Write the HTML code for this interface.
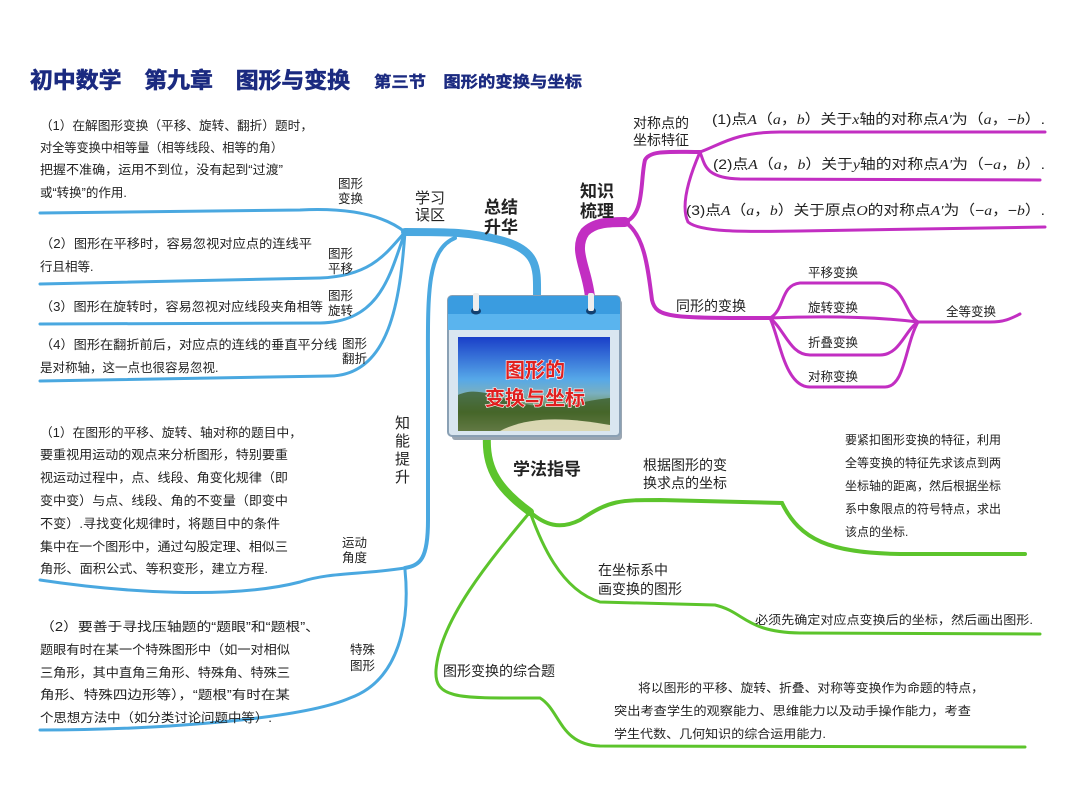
<!DOCTYPE html>
<html><head><meta charset="utf-8"><style>
html,body{margin:0;padding:0;background:#fff;}
svg{display:block;}
text{font-family:"Liberation Sans","Noto Sans CJK SC",sans-serif;fill:#222;}
.t{font-size:12.5px;}
.m{font-size:14px;}
.b{font-weight:bold;}
</style></head><body>
<svg width="1080" height="802" viewBox="0 0 1080 802" xmlns="http://www.w3.org/2000/svg">
<rect width="1080" height="802" fill="#fff"/>
<!-- title -->
<text x="30" y="88" class="b" style="font-size:22px;fill:#1b2a80;stroke:#1b2a80;stroke-width:0.6" textLength="320" lengthAdjust="spacingAndGlyphs">初中数学　第九章　图形与变换</text>
<text x="374" y="87" class="b" style="font-size:15.5px;fill:#1b2a80;stroke:#1b2a80;stroke-width:0.4" textLength="208" lengthAdjust="spacingAndGlyphs">第三节　图形的变换与坐标</text>

<!-- BLUE -->
<g fill="none" stroke="#4aa8e0" stroke-linecap="round">
<path d="M537 298 C537 270 540 250 500 240 C470 232 450 232 405 232" stroke-width="8"/>
<path d="M405 232 C380 212 340 208 300 210 L40 213" stroke-width="3"/>
<path d="M405 232 C385 255 370 276 320 278 L40 284" stroke-width="3"/>
<path d="M405 232 C390 275 380 322 320 323 L40 324" stroke-width="3"/>
<path d="M405 232 C400 300 390 375 330 376 L40 381" stroke-width="3"/>
<path d="M455 238 C425 250 428 300 428 380 L428 520 C428 560 420 565 405 568" stroke-width="4"/>
<path d="M405 568 C360 575 330 572 300 582 C230 600 120 592 40 580" stroke-width="3"/>
<path d="M405 570 C410 620 400 680 350 698 C300 720 150 730 40 730" stroke-width="3"/>
</g>

<!-- MAGENTA -->
<g fill="none" stroke="#c22ec2" stroke-linecap="round">
<path d="M590 298 C588 270 572 250 585 232 C595 222 610 222 625 222" stroke-width="10"/>
<path d="M625 222 C645 215 640 180 645 160 C650 150 670 152 700 152" stroke-width="4"/>
<path d="M700 152 C720 145 735 132 780 132 L1045 132" stroke-width="3"/>
<path d="M700 152 C705 165 705 178 740 179 L1040 180" stroke-width="3"/>
<path d="M700 152 C690 175 680 205 688 222 C700 232 740 232 800 231 L1045 227" stroke-width="3"/>
<path d="M625 222 C645 235 648 270 652 300 C656 318 670 318 770 318" stroke-width="4"/>
<path d="M770 318 C785 310 780 285 800 283 L880 283 C905 285 905 315 918 322" stroke-width="3"/>
<path d="M770 318 C820 316 870 316 918 322" stroke-width="3"/>
<path d="M770 318 C785 330 790 355 810 355 L880 355 C900 355 905 330 918 322" stroke-width="3"/>
<path d="M770 318 C780 340 785 387 810 387 L885 387 C905 387 905 345 918 322" stroke-width="3"/>
<path d="M918 322 L990 322 C1005 322 1012 318 1020 314" stroke-width="3"/>
</g>

<!-- GREEN -->
<g fill="none" stroke="#5cc42c" stroke-linecap="round">
<path d="M487 436 C485 470 500 490 530 512" stroke-width="8"/>
<path d="M530 512 C545 525 560 530 580 520 C610 500 620 500 660 500 L782 503 C800 540 830 553 900 554 L1025 554" stroke-width="4"/>
<path d="M530 512 C540 540 560 590 600 602 L715 605 C745 612 745 632 800 633 L1040 634" stroke-width="3"/>
<path d="M530 512 C490 560 440 620 436 670 C434 700 460 698 540 698 C560 710 560 745 600 746 L1025 747" stroke-width="3"/>
</g>

<!-- calendar -->
<rect x="452" y="300" width="170" height="140" rx="3" fill="#9aa6b2"/>
<rect x="448" y="296" width="172" height="140" rx="4" fill="#d9e6f0" stroke="#8aa0b4" stroke-width="2"/>
<rect x="448" y="296" width="172" height="34" rx="4" fill="#3a9ce0"/>
<rect x="448" y="314" width="172" height="16" fill="#5ab4ee"/>
<ellipse cx="476" cy="311" rx="5" ry="3.5" fill="#124070"/>
<ellipse cx="591" cy="311" rx="5" ry="3.5" fill="#124070"/>
<rect x="473" y="293" width="6" height="18" rx="2" fill="#eee"/>
<rect x="588" y="293" width="6" height="18" rx="2" fill="#eee"/>
<defs><linearGradient id="sky" x1="0" y1="0" x2="0" y2="1">
<stop offset="0" stop-color="#1a3fc8"/><stop offset="0.45" stop-color="#56a8e8"/>
<stop offset="0.6" stop-color="#7ab0c0"/><stop offset="0.8" stop-color="#6a8a40"/><stop offset="1" stop-color="#d8d4a8"/></linearGradient></defs>
<rect x="458" y="337" width="152" height="94" fill="url(#sky)"/>
<path d="M458 395 C480 385 500 400 530 405 C560 410 585 400 610 398 L610 431 L458 431Z" fill="#3a5a22" opacity="0.75"/>
<path d="M500 431 C530 415 570 418 610 425 L610 431Z" fill="#e8e2c0" opacity="0.9"/>
<text x="535" y="377" text-anchor="middle" class="b" style="font-size:20px;fill:#e02020;stroke:#fff;stroke-width:1.2;paint-order:stroke">图形的</text>
<text x="535" y="405" text-anchor="middle" class="b" style="font-size:20px;fill:#e02020;stroke:#fff;stroke-width:1.2;paint-order:stroke">变换与坐标</text>

<!-- left texts -->
<text x="40" y="130" class="t" textLength="273" lengthAdjust="spacingAndGlyphs">（1）在解图形变换（平移、旋转、翻折）题时，</text>
<text x="40" y="152" class="t" textLength="243" lengthAdjust="spacingAndGlyphs">对全等变换中相等量（相等线段、相等的角）</text>
<text x="40" y="174" class="t" textLength="243" lengthAdjust="spacingAndGlyphs">把握不准确，运用不到位，没有起到“过渡”</text>
<text x="40" y="197" class="t">或“转换”的作用.</text>
<text x="338" y="188" class="t">图形</text><text x="338" y="203" class="t">变换</text>
<text x="40" y="248" class="t" textLength="272" lengthAdjust="spacingAndGlyphs">（2）图形在平移时，容易忽视对应点的连线平</text>
<text x="40" y="271" class="t">行且相等.</text>
<text x="328" y="258" class="t">图形</text><text x="328" y="273" class="t">平移</text>
<text x="40" y="311" class="t" textLength="283" lengthAdjust="spacingAndGlyphs">（3）图形在旋转时，容易忽视对应线段夹角相等</text>
<text x="328" y="300" class="t">图形</text><text x="328" y="315" class="t">旋转</text>
<text x="40" y="349" class="t" textLength="297" lengthAdjust="spacingAndGlyphs">（4）图形在翻折前后，对应点的连线的垂直平分线</text>
<text x="40" y="372" class="t">是对称轴，这一点也很容易忽视.</text>
<text x="342" y="348" class="t">图形</text><text x="342" y="363" class="t">翻折</text>
<text x="415" y="203" style="font-size:15px">学习</text><text x="415" y="220" style="font-size:15px">误区</text>
<text x="484" y="213" class="b" style="font-size:17px">总结</text><text x="484" y="233" class="b" style="font-size:17px">升华</text>
<g style="font-size:15px"><text x="395" y="428">知</text><text x="395" y="446">能</text><text x="395" y="464">提</text><text x="395" y="482">升</text></g>

<text x="40" y="437" class="t" textLength="262" lengthAdjust="spacingAndGlyphs">（1）在图形的平移、旋转、轴对称的题目中，</text>
<text x="40" y="459" class="t" textLength="248" lengthAdjust="spacingAndGlyphs">要重视用运动的观点来分析图形，特别要重</text>
<text x="40" y="482" class="t" textLength="248" lengthAdjust="spacingAndGlyphs">视运动过程中，点、线段、角变化规律（即</text>
<text x="40" y="505" class="t" textLength="248" lengthAdjust="spacingAndGlyphs">变中变）与点、线段、角的不变量（即变中</text>
<text x="40" y="528" class="t" textLength="240" lengthAdjust="spacingAndGlyphs">不变）.寻找变化规律时，将题目中的条件</text>
<text x="40" y="551" class="t" textLength="248" lengthAdjust="spacingAndGlyphs">集中在一个图形中，通过勾股定理、相似三</text>
<text x="40" y="573" class="t" textLength="228" lengthAdjust="spacingAndGlyphs">角形、面积公式、等积变形，建立方程.</text>
<text x="342" y="547" class="t">运动</text><text x="342" y="562" class="t">角度</text>
<text x="40" y="631" class="t" textLength="280" lengthAdjust="spacingAndGlyphs">（2）要善于寻找压轴题的“题眼”和“题根”、</text>
<text x="40" y="654" class="t" textLength="250" lengthAdjust="spacingAndGlyphs">题眼有时在某一个特殊图形中（如一对相似</text>
<text x="40" y="677" class="t" textLength="250" lengthAdjust="spacingAndGlyphs">三角形，其中直角三角形、特殊角、特殊三</text>
<text x="40" y="699" class="t" textLength="250" lengthAdjust="spacingAndGlyphs">角形、特殊四边形等），“题根”有时在某</text>
<text x="40" y="722" class="t" textLength="232" lengthAdjust="spacingAndGlyphs">个思想方法中（如分类讨论问题中等）.</text>
<text x="350" y="654" class="t">特殊</text><text x="350" y="670" class="t">图形</text>

<!-- right magenta texts -->
<text x="580" y="197" class="b" style="font-size:17px">知识</text><text x="580" y="217" class="b" style="font-size:17px">梳理</text>
<text x="633" y="128" class="m">对称点的</text><text x="633" y="145" class="m">坐标特征</text>
<text x="712" y="124" class="m" textLength="333" lengthAdjust="spacingAndGlyphs">(1)点<tspan font-style="italic" font-family="Liberation Serif">A</tspan>（<tspan font-style="italic" font-family="Liberation Serif">a</tspan>，<tspan font-style="italic" font-family="Liberation Serif">b</tspan>）关于<tspan font-style="italic" font-family="Liberation Serif">x</tspan>轴的对称点<tspan font-style="italic" font-family="Liberation Serif">A′</tspan>为（<tspan font-style="italic" font-family="Liberation Serif">a</tspan>，−<tspan font-style="italic" font-family="Liberation Serif">b</tspan>）.</text>
<text x="713" y="169" class="m" textLength="332" lengthAdjust="spacingAndGlyphs">(2)点<tspan font-style="italic" font-family="Liberation Serif">A</tspan>（<tspan font-style="italic" font-family="Liberation Serif">a</tspan>，<tspan font-style="italic" font-family="Liberation Serif">b</tspan>）关于<tspan font-style="italic" font-family="Liberation Serif">y</tspan>轴的对称点<tspan font-style="italic" font-family="Liberation Serif">A′</tspan>为（−<tspan font-style="italic" font-family="Liberation Serif">a</tspan>，<tspan font-style="italic" font-family="Liberation Serif">b</tspan>）.</text>
<text x="686" y="215" class="m" textLength="359" lengthAdjust="spacingAndGlyphs">(3)点<tspan font-style="italic" font-family="Liberation Serif">A</tspan>（<tspan font-style="italic" font-family="Liberation Serif">a</tspan>，<tspan font-style="italic" font-family="Liberation Serif">b</tspan>）关于原点<tspan font-style="italic" font-family="Liberation Serif">O</tspan>的对称点<tspan font-style="italic" font-family="Liberation Serif">A′</tspan>为（−<tspan font-style="italic" font-family="Liberation Serif">a</tspan>，−<tspan font-style="italic" font-family="Liberation Serif">b</tspan>）.</text>
<text x="676" y="311" class="m">同形的变换</text>
<text x="808" y="277" class="t">平移变换</text>
<text x="808" y="312" class="t">旋转变换</text>
<text x="808" y="347" class="t">折叠变换</text>
<text x="808" y="381" class="t">对称变换</text>
<text x="946" y="316" class="t">全等变换</text>

<!-- green texts -->
<text x="513" y="475" class="b" style="font-size:17px">学法指导</text>
<text x="643" y="470" class="m">根据图形的变</text><text x="643" y="488" class="m">换求点的坐标</text>
<text x="845" y="444" class="t" style="font-size:12px">要紧扣图形变换的特征，利用</text>
<text x="845" y="467" class="t" style="font-size:12px">全等变换的特征先求该点到两</text>
<text x="845" y="490" class="t" style="font-size:12px">坐标轴的距离，然后根据坐标</text>
<text x="845" y="513" class="t" style="font-size:12px">系中象限点的符号特点，求出</text>
<text x="845" y="536" class="t" style="font-size:12px">该点的坐标.</text>
<text x="598" y="575" class="m">在坐标系中</text><text x="598" y="594" class="m">画变换的图形</text>
<text x="755" y="624" class="t" style="font-size:12px" textLength="278" lengthAdjust="spacingAndGlyphs">必须先确定对应点变换后的坐标，然后画出图形.</text>
<text x="443" y="676" class="m">图形变换的综合题</text>
<text x="638" y="692" class="t" style="font-size:12px" textLength="346" lengthAdjust="spacingAndGlyphs">将以图形的平移、旋转、折叠、对称等变换作为命题的特点，</text>
<text x="614" y="715" class="t" style="font-size:12px" textLength="357" lengthAdjust="spacingAndGlyphs">突出考查学生的观察能力、思维能力以及动手操作能力，考查</text>
<text x="614" y="738" class="t" style="font-size:12px" textLength="212" lengthAdjust="spacingAndGlyphs">学生代数、几何知识的综合运用能力.</text>
</svg>
</body></html>
